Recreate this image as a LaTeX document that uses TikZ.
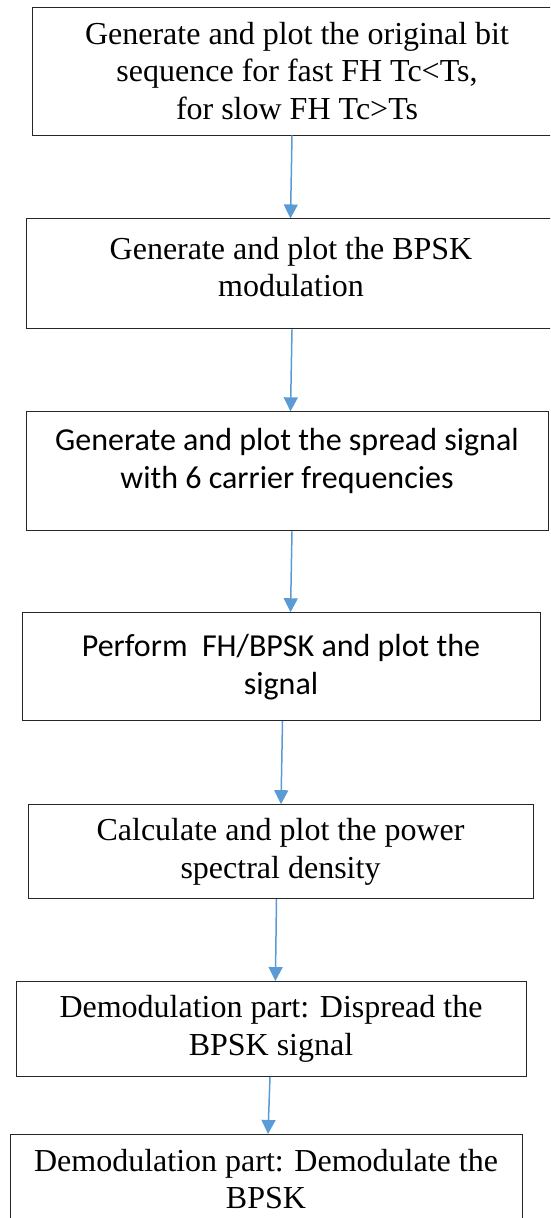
\documentclass[tikz,border=0pt]{standalone}
\usepackage{fontspec}
\setmainfont{Liberation Serif}
\newfontfamily\timesfont{Liberation Serif}
\newfontfamily\calibri{Carlito}
\usetikzlibrary{positioning, arrows.meta}
\definecolor{flowblue}{HTML}{5B9BD5}
\definecolor{boxline}{HTML}{262626}

\begin{document}
\begin{tikzpicture}[x=1pt, y=1pt,
		stepbox/.style={rectangle, draw=boxline, line width=0.9pt, inner sep=0pt, align=center, font=\timesfont\fontsize{32}{37.5}\selectfont},
		sansbox/.style={stepbox, font=\calibri\fontsize{32}{38}\selectfont},
		flow/.style={draw=flowblue, line width=1.5pt, -{Triangle[width=14pt, length=14pt]}}
	]
	\useasboundingbox (0,0) rectangle (550,-1218);
	\clip (0,0) rectangle (550,-1218);

	\node[stepbox, minimum width=530pt, minimum height=128pt] (b1) at (297,-71) {Generate and plot the original bit\\sequence for fast FH Tc<Ts,\\for slow FH Tc>Ts};
	\node[stepbox, minimum width=530pt, minimum height=110pt, below=83pt of b1, xshift=-6pt] (b2) {Generate and plot the BPSK\\modulation\rule[-14pt]{0pt}{0pt}};
	\node[sansbox, minimum width=522pt, minimum height=119pt, below=82pt of b2, xshift=-4pt] (b3) {Generate and plot the spread signal\\with 6 carrier frequencies\rule[-25pt]{0pt}{0pt}};
	\node[sansbox, minimum width=518pt, minimum height=108pt, below=81pt of b3, xshift=-6pt] (b4) {Perform\ \ FH/BPSK and plot the\\signal};
	\node[stepbox, minimum width=505pt, minimum height=94pt, below=83pt of b4, xshift=-0.5pt] (b5) {Calculate and plot the power\\spectral density};
	\node[stepbox, minimum width=510pt, minimum height=95pt, below=82pt of b5, xshift=-9.5pt] (b6) {Demodulation part: Dispread the\\BPSK signal};
	\node[stepbox, minimum width=512pt, minimum height=95pt, below=57pt of b6, xshift=-5pt] (b7) {Demodulation part: Demodulate the\\BPSK\rule[-6pt]{0pt}{0pt}};

	\foreach \i/\j/\a/\b in {b1/b2/-5/-0.5, b2/b3/1/3.5, b3/b4/5/9.5, b4/b5/1.5/0.5, b5/b6/-4/4.4, b6/b7/-1/2}
		\draw[flow] ([xshift=\a pt]\i.south) -- ([xshift=\b pt]\j.north);

\end{tikzpicture}
\end{document}
